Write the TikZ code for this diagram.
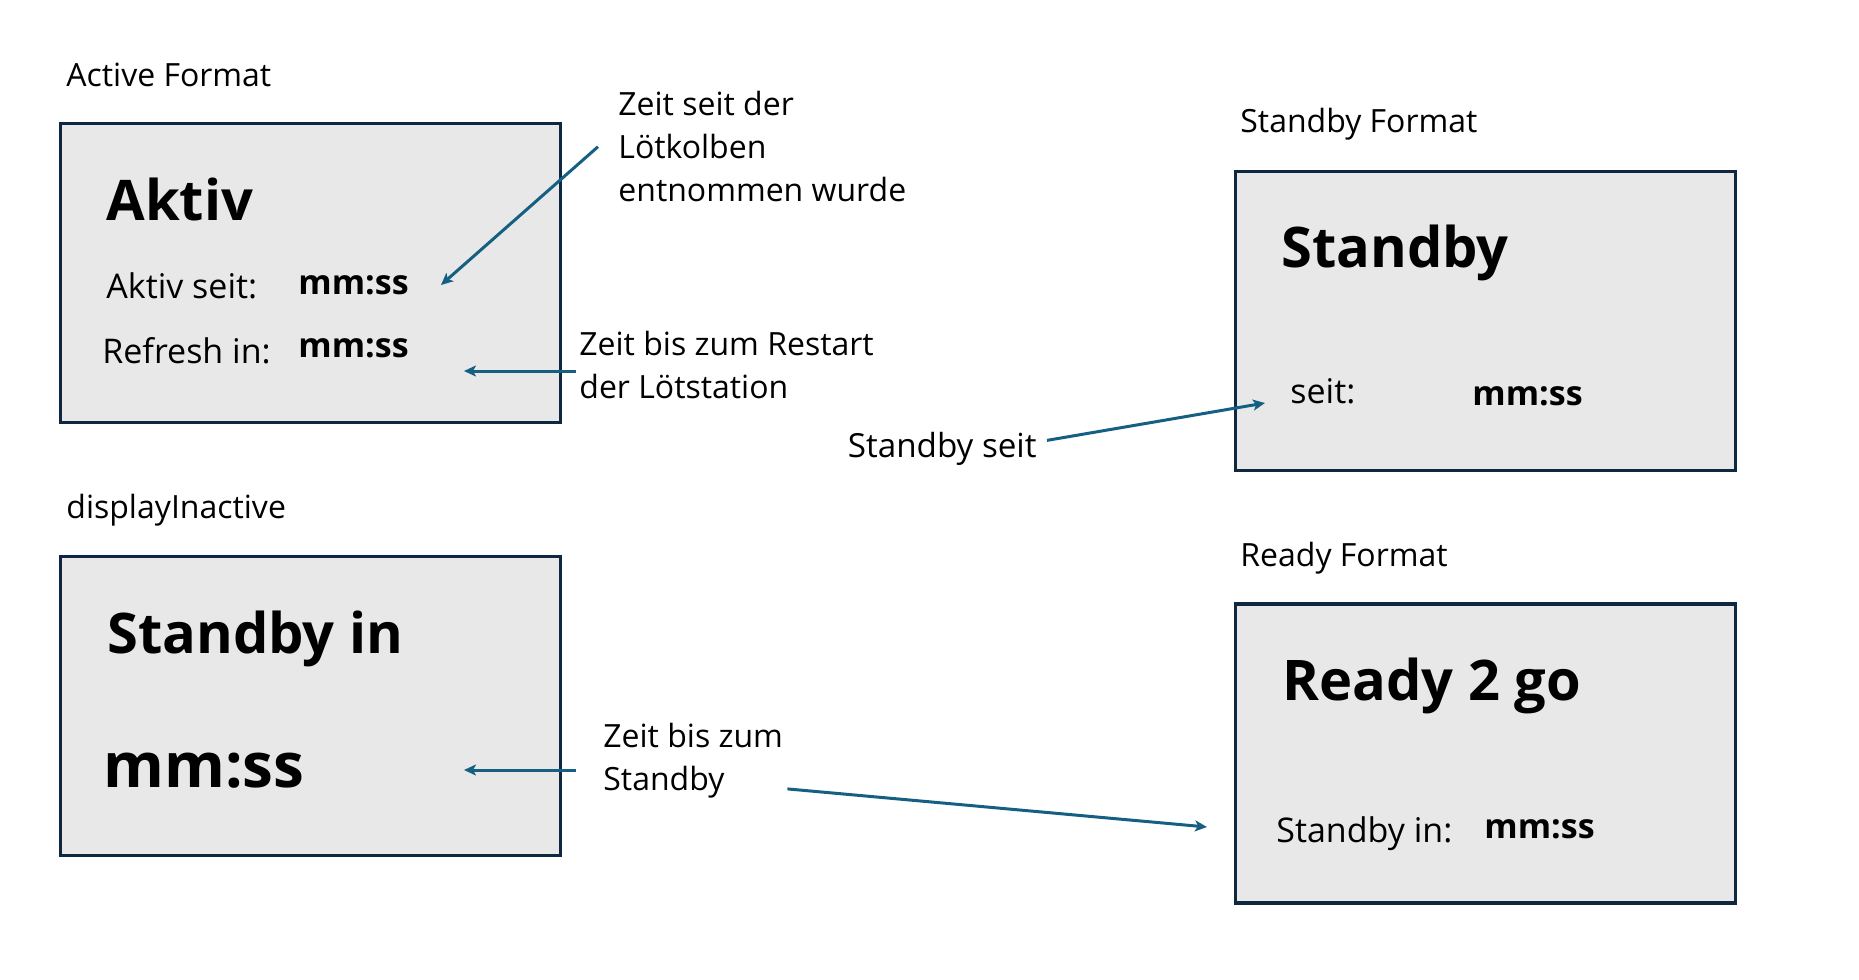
\documentclass[tikz,border=0pt]{standalone}
\usepackage{fontspec}
\setmainfont{Open Sans}
\usetikzlibrary{arrows.meta}

\definecolor{boxline}{HTML}{0E2841}
\definecolor{boxfill}{HTML}{E8E8E8}
\definecolor{arrowblue}{HTML}{156082}

\begin{document}
\begin{tikzpicture}[x=0.5pt,y=-0.5pt,
    display/.style={draw=boxline,fill=boxfill,line width=1.6pt,minimum width=250pt,minimum height=149.5pt,inner sep=0pt},
    title/.style={anchor=base west,inner sep=0pt,font=\fontsize{16}{20}\selectfont},
    big/.style={anchor=base west,inner sep=0pt,font=\fontsize{28}{34}\selectfont\bfseries},
    fieldtxt/.style={anchor=base west,inner sep=0pt,font=\fontsize{17}{20}\selectfont},
    valtxt/.style={anchor=base west,inner sep=0pt,font=\fontsize{17}{20}\selectfont\bfseries},
    note/.style={anchor=north west,inner sep=0pt,align=left,font=\fontsize{16}{21.5}\selectfont},
    arrowline/.style={draw=arrowblue,line width=1.5pt,-{Stealth[length=6pt,width=5.5pt,inset=1.5pt]}}]
    \useasboundingbox (0,0) rectangle (1859,980);

    % display boxes
    \node[display] (actbox) at (310.5,273) {};
    \node[display] (inactbox) at (310.5,706) {};
    \node[display] (stbbox) at (1485.5,321) {};
    \node[display] (rdybox) at (1485.5,753.5) {};

    % titles
    \node[title] (acttitle) at (66,86) {Active Format};
    \node[title] (inacttitle) at (66,518) {displayInactive};
    \node[title] (stbtitle) at (1240,132) {Standby Format};
    \node[title] (rdytitle) at (1240,566) {Ready Format};

    % active format
    \node[big] (aktiv) at (106,220) {Aktiv};
    \node[fieldtxt] (aktivseit) at (106,298) {Aktiv seit:};
    \node[valtxt] (aktivval) at (298,294) {mm:ss};
    \node[fieldtxt] (refresh) at (102,363) {Refresh in:};
    \node[valtxt] (refreshval) at (298,357) {mm:ss};

    % display inactive
    \node[big] (stbin) at (107,653) {Standby in};
    \node[big,font=\fontsize{31}{36}\selectfont\bfseries] (stbinval) at (103,787) {mm:ss};

    % standby format
    \node[big] (standby) at (1281,267) {Standby};
    \node[fieldtxt] (seit) at (1290,403) {seit:};
    \node[valtxt] (seitval) at (1472,405) {mm:ss};

    % ready format
    \node[big] (ready) at (1282,700) {Ready 2 go};
    \node[fieldtxt] (rdystb) at (1276,842) {Standby in:};
    \node[valtxt] (rdystbval) at (1484,838) {mm:ss};

    % notes
    \node[note] (notelk) at (618,91) {Zeit seit der\\Lötkolben\\entnommen wurde};
    \node[note] (noterst) at (579,331) {Zeit bis zum Restart\\der Lötstation};
    \node[note] (notestb) at (603,723) {Zeit bis zum\\Standby};
    \node[title,anchor=base east,font=\fontsize{16.6}{20}\selectfont] (notesb) at (1037,457) {Standby seit};

    % arrow tips
    \coordinate (aktivtip) at (441,285);
    \coordinate (refreshtip) at (464,371);
    \coordinate (seittip) at (1265,403);
    \coordinate (inacttip) at (464,770);
    \coordinate (readytip) at (1207,827);

    \draw[arrowline] ([xshift=-10pt]notelk.west) -- (aktivtip);
    \draw[arrowline] ([xshift=-1.5pt]noterst.west |- refreshtip) -- (refreshtip);
    \draw[arrowline] ([xshift=-13.5pt]notestb.west |- inacttip) -- (inacttip);
    \draw[arrowline] ([xshift=5pt,yshift=4pt]notesb.east) -- (seittip);
    \draw[arrowline] ([xshift=2pt,yshift=-14pt]notestb.east) -- (readytip);
\end{tikzpicture}
\end{document}
